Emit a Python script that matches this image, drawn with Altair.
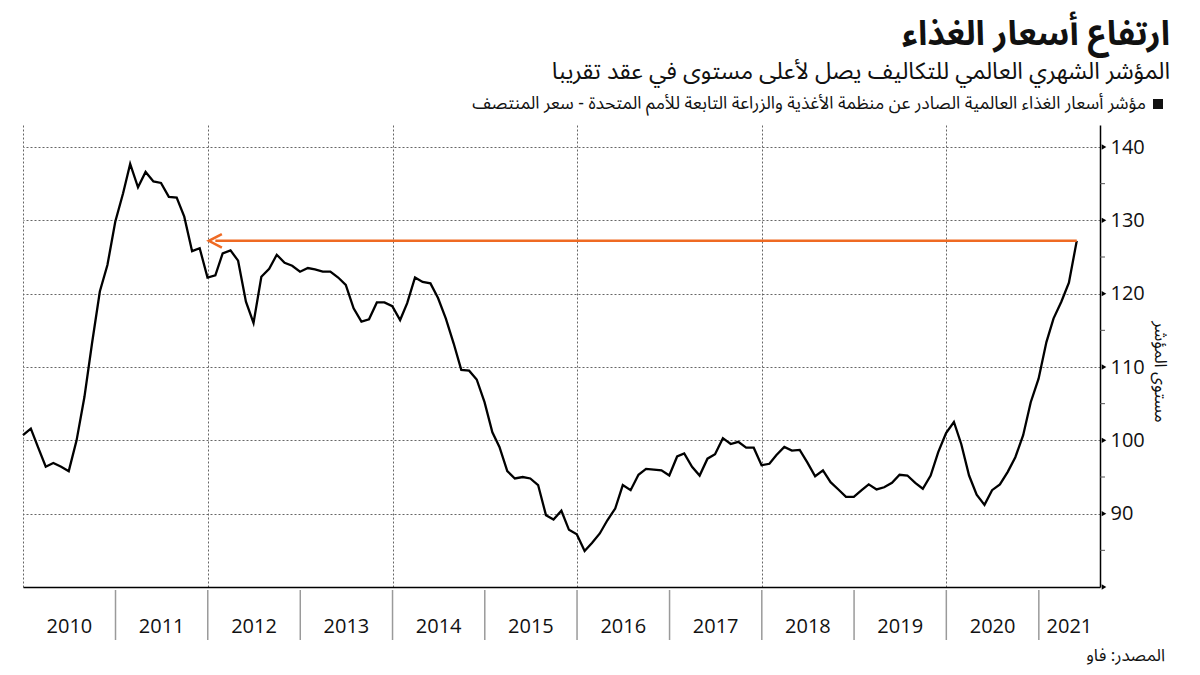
import altair as alt
import pandas as pd

# ---- data (FAO Food Price Index, monthly) ----
values = [
    100.7, 101.6, 99.1, 96.4, 96.9, 96.4, 95.8, 100.0, 105.9, 113.2, 120.3, 123.9,
    129.8, 133.7, 137.7, 134.5, 136.6, 135.3, 135.1, 133.2, 133.1, 130.5, 125.8, 126.2,
    122.2, 122.5, 125.5, 125.9, 124.5, 118.9, 116.0, 122.3, 123.4, 125.3, 124.2, 123.8,
    123.0, 123.5, 123.3, 123.0, 123.0, 122.2, 121.2, 118.0, 116.2, 116.5, 118.8, 118.8,
    118.3, 116.4, 118.7, 122.2, 121.6, 121.4, 119.4, 116.6, 113.2, 109.6, 109.5, 108.3,
    105.2, 101.1, 99.1, 95.8, 94.8, 95.0, 94.8, 93.9, 89.8, 89.2, 90.4, 87.8,
    87.2, 84.9, 86.0, 87.3, 89.1, 90.7, 93.9, 93.2, 95.3, 96.1, 96.0, 95.9,
    95.2, 97.8, 98.2, 96.4, 95.2, 97.5, 98.1, 100.3, 99.5, 99.8, 99.0, 99.0,
    96.6, 96.8, 98.0, 99.1, 98.6, 98.7, 97.0, 95.1, 95.9, 94.3, 93.3, 92.3,
    92.3, 93.2, 94.0, 93.3, 93.6, 94.2, 95.3, 95.2, 94.2, 93.4, 95.2, 98.4,
    101.0, 102.5, 99.5, 95.2, 92.6, 91.2, 93.2, 94.0, 95.7, 97.7, 100.7, 105.2,
    108.4, 113.4, 116.6, 118.9, 121.5, 127.2,
]
# month-end dates: Dec 2009 ... May 2021
dates = pd.date_range("2010-01-01", periods=len(values), freq="MS") - pd.Timedelta(days=1)

years = list(range(2010, 2022))
grid_years = [2010, 2012, 2014, 2016, 2018, 2020]
y_major = [90, 100, 110, 120, 130, 140]
y_marks = [80, 90, 100, 110, 120, 130, 140]
y_minor = [85, 95, 105, 115, 125, 135]

title = "ارتفاع أسعار الغذاء"
subtitle = "المؤشر الشهري العالمي للتكاليف يصل لأعلى مستوى في عقد تقريبا"
legend_text = "مؤشر أسعار الغذاء العالمية الصادر عن منظمة الأغذية والزراعة التابعة للأمم المتحدة - سعر المنتصف"
source_text = "المصدر: فاو"
y_title = "مستوى المؤشر"

arrow_start_index = 25  # Jan 2012

# ---- layout ----
W, H = 1077, 462
PAD_L, PAD_T = 23, 125
x_start = pd.Timestamp("2009-12-31")
x_end = pd.Timestamp("2021-08-31")

AR_FONT = "Noto Sans Arabic, DejaVu Sans, sans-serif"
NUM_FONT = "Open Sans"
ORANGE = "#ef6a23"

df = pd.DataFrame({"date": dates, "value": values})

xscale = alt.Scale(domain=[alt.DateTime(year=2009, month=12, date=31),
                           alt.DateTime(year=2021, month=8, date=31)])
yscale = alt.Scale(domain=[80, 143], nice=False, zero=False)

base_x = alt.X("date:T", scale=xscale,
               axis=alt.Axis(values=[alt.DateTime(year=y, month=1, date=1) for y in grid_years],
                             labels=False, ticks=False, title=None, grid=True,
                             gridDash=[2, 2], gridColor="#666", gridWidth=1,
                             domainColor="#000", domainWidth=1.5))
base_y = alt.Y("value:Q", scale=yscale,
               axis=alt.Axis(orient="right", values=y_major, title=None, grid=True,
                             gridDash=[2, 2], gridColor="#666", gridWidth=1,
                             ticks=False, labelPadding=10, labelFontSize=20,
                             labelFont=NUM_FONT, labelColor="#111",
                             domainColor="#000", domainWidth=1.5))

line = alt.Chart(df).mark_line(color="#000", strokeWidth=2.3).encode(x=base_x, y=base_y)

arrow_df = pd.DataFrame({"start": [dates[arrow_start_index]], "end": [dates[-1]],
                         "value": [values[-1]]})
arrow = alt.Chart(arrow_df).mark_rule(color=ORANGE, strokeWidth=2.5).encode(
    x=alt.X("start:T", scale=xscale), x2="end:T", y=alt.Y("value:Q", scale=yscale))
arrow_head = alt.Chart(arrow_df).mark_point(
    shape="M1,-1.05L-1,0L1,1.05", filled=False, stroke=ORANGE, strokeWidth=2.5, size=170,
    opacity=1).encode(x=alt.X("start:T", scale=xscale), y=alt.Y("value:Q", scale=yscale))

minor_df = pd.DataFrame({"v": y_minor})
minor = alt.Chart(minor_df).mark_rule(color="#555", strokeWidth=1).encode(
    y=alt.Y("v:Q", scale=yscale), x=alt.value(W), x2=alt.value(W + 5))

tri_df = pd.DataFrame({"v": y_marks})
tris = alt.Chart(tri_df).mark_point(shape="triangle-right", filled=True, color="#000",
                                    size=28, opacity=1).encode(
    y=alt.Y("v:Q", scale=yscale), x=alt.value(W + 4))

# year separators and labels
sep_df = pd.DataFrame({"d": [pd.Timestamp(year=y, month=1, day=1) for y in years[1:]]})
seps = alt.Chart(sep_df).mark_rule(color="#9a9a9a", strokeWidth=1.5).encode(
    x=alt.X("d:T", scale=xscale), y=alt.value(H + 3), y2=alt.value(H + 53))

mids = []
for y in years:
    s = max(pd.Timestamp(year=y, month=1, day=1), x_start)
    e = min(pd.Timestamp(year=y + 1, month=1, day=1), x_end)
    mids.append(s + (e - s) / 2)
lab_df = pd.DataFrame({"d": mids, "label": [str(y) for y in years]})
year_labels = alt.Chart(lab_df).mark_text(fontSize=20, font=NUM_FONT, color="#111",
                                          baseline="middle", align="center").encode(
    x=alt.X("d:T", scale=xscale), y=alt.value(H + 40), text="label:N")


def text_layer(txt, x, y, size, weight="normal", align="right", angle=0, color="#111"):
    kw = dict(fontSize=size, font=AR_FONT, fontWeight=weight, align=align,
              baseline="middle", color=color)
    if angle:
        kw["angle"] = angle
    return alt.Chart(pd.DataFrame({"t": [txt]})).mark_text(**kw).encode(
        x=alt.value(x), y=alt.value(y), text="t:N")


t_title = text_layer(title, 1170 - PAD_L, 35 - PAD_T, 34, weight="bold")
t_sub = text_layer(subtitle, 1170 - PAD_L, 72 - PAD_T, 23.5)
t_leg = text_layer(legend_text, 1146 - PAD_L, 104 - PAD_T, 17.5)
leg_sq = alt.Chart(pd.DataFrame({"t": ["a"]})).mark_point(
    shape="square", filled=True, color="#111", size=100, opacity=1).encode(
    x=alt.value(1158 - PAD_L), y=alt.value(104 - PAD_T))
t_src = text_layer(source_text, 1165 - PAD_L, 656 - PAD_T, 17)
t_ytitle = text_layer(y_title, 1160 - PAD_L, 372 - PAD_T, 17, align="center", angle=90)

chart = alt.layer(
    line, arrow, arrow_head, minor, tris, seps, year_labels,
    t_title, t_sub, t_leg, leg_sq, t_src, t_ytitle,
).properties(
    width=W, height=H,
    autosize=alt.AutoSizeParams(type="none"),
    padding={"left": PAD_L, "top": PAD_T, "right": 1200 - PAD_L - W, "bottom": 675 - PAD_T - H},
    background="#ffffff",
).configure_view(stroke=None)

chart.save("out.html", embed_options={"renderer": "svg", "actions": False})
